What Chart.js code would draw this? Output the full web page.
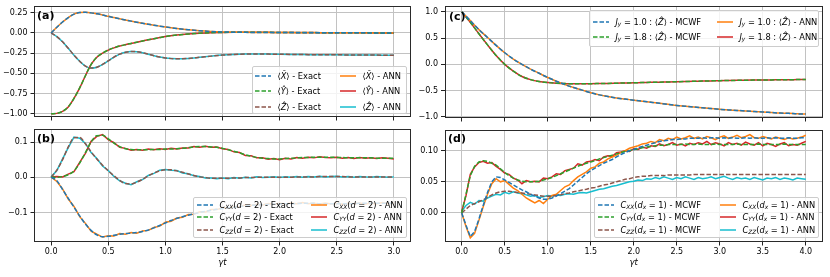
<!DOCTYPE html>
<html><head><meta charset="utf-8">
<script src="https://cdn.jsdelivr.net/npm/chart.js@4.4.1/dist/chart.umd.min.js"></script>
<style>
html,body{margin:0;padding:0;background:#fff;}
#wrap{position:relative;width:830px;height:277px;overflow:hidden;font-family:"DejaVu Sans";}
canvas{position:absolute;}
.lab{position:absolute;font:bold 11px "DejaVu Sans";color:#000;line-height:11px;white-space:nowrap;}
.box{position:absolute;background:rgba(255,255,255,0.8);border:1px solid #cccccc;border-radius:2px;box-sizing:border-box;}
.it{position:absolute;height:12px;font:8.3px "DejaVu Sans";line-height:12px;white-space:nowrap;color:#000;}
.it svg{position:absolute;left:0;top:0;}
.it span{position:absolute;left:22.4px;top:0;}
i{font-style:italic;}
sub{font-size:0.7em;vertical-align:-0.25em;line-height:0;}
</style></head>
<body><div id="wrap">
<canvas id="cA" width="416" height="123" style="left:0;top:0"></canvas>
<canvas id="cB" width="416" height="154" style="left:0;top:123px"></canvas>
<canvas id="cC" width="420" height="124" style="left:410px;top:0"></canvas>
<canvas id="cD" width="420" height="153" style="left:410px;top:124px"></canvas>
</div>
<script>
// ---------- time grids ----------
const tA = [0,0.05,0.1,0.15,0.2,0.25,0.3,0.35,0.4,0.45,0.5,0.55,0.6,0.65,0.7,0.75,0.8,0.85,0.9,0.95,1.0,
  1.1,1.2,1.3,1.4,1.5,1.6,1.7,1.8,1.9,2.0,2.1,2.2,2.3,2.4,2.5,2.6,2.7,2.8,2.9,3.0];
const tB = [0,0.05,0.1,0.15,0.2,0.25,0.3,0.35,0.4,0.45,0.5,0.55,0.6,0.65,0.7,0.75,0.8,0.85,0.9,0.95,1.0,
  1.05,1.1,1.15,1.2,1.25,1.3,1.35,1.4,1.45,1.5,1.55,1.6,1.65,1.7,1.75,1.8,1.85,1.9,1.95,2.0,
  2.05,2.1,2.15,2.2,2.25,2.3,2.35,2.4,2.45,2.5,2.55,2.6,2.65,2.7,2.75,2.8,2.85,2.9,2.95,3.0];
const tC = [0,0.1,0.2,0.3,0.4,0.5,0.6,0.7,0.8,0.9,1.0,1.1,1.2,1.3,1.4,1.5,1.6,1.7,1.8,1.9,2.0,
  2.1,2.2,2.3,2.4,2.5,2.6,2.7,2.8,2.9,3.0,3.1,3.2,3.3,3.4,3.5,3.6,3.7,3.8,3.9,4.0];
const tD = [0,0.05,0.1,0.15,0.2,0.25,0.3,0.35,0.4,0.45,0.5,0.55,0.6,0.65,0.7,0.75,0.8,0.85,0.9,0.95,
  1.0,1.05,1.1,1.15,1.2,1.25,1.3,1.35,1.4,1.45,1.5,1.55,1.6,1.65,1.7,1.75,1.8,1.85,1.9,1.95,
  2.0,2.05,2.1,2.15,2.2,2.25,2.3,2.35,2.4,2.45,2.5,2.55,2.6,2.65,2.7,2.75,2.8,2.85,2.9,2.95,
  3.0,3.05,3.1,3.15,3.2,3.25,3.3,3.35,3.4,3.45,3.5,3.55,3.6,3.65,3.7,3.75,3.8,3.85,3.9,3.95,4.0];

// ---------- panel (a) ----------
const aX = [0,0.07,0.135,0.19,0.232,0.252,0.255,0.248,0.236,0.222,0.205,0.19,0.175,0.16,0.146,0.132,0.119,0.107,0.095,0.084,0.074,
  0.056,0.04,0.027,0.018,0.012,0.009,0.007,0.006,0.005,0.004,0.004,0.003,0.003,0.002,0.002,0.001,0.001,0,0,0];
const aY = [-1.0,-0.995,-0.97,-0.915,-0.81,-0.68,-0.53,-0.39,-0.3,-0.25,-0.212,-0.185,-0.162,-0.145,-0.13,-0.115,-0.1,-0.085,-0.071,-0.058,-0.045,
  -0.027,-0.014,-0.004,0.002,0.006,0.008,0.008,0.008,0.007,0.006,0.005,0.004,0.004,0.003,0.002,0.002,0.001,0.001,0,0];
const aZ = [0,-0.045,-0.11,-0.19,-0.275,-0.35,-0.41,-0.435,-0.425,-0.39,-0.345,-0.3,-0.263,-0.24,-0.23,-0.233,-0.245,-0.263,-0.282,-0.298,-0.31,
  -0.32,-0.316,-0.302,-0.287,-0.274,-0.266,-0.262,-0.261,-0.262,-0.264,-0.266,-0.268,-0.269,-0.27,-0.271,-0.272,-0.273,-0.274,-0.275,-0.275];
// ANN curves coincide with the exact ones at this scale
const aXann = aX, aYann = aY, aZann = aZ;

// ---------- panel (b) ----------
const bCxx = [0,-0.01,-0.035,-0.06,-0.085,-0.11,-0.133,-0.151,-0.164,-0.169,-0.168,-0.165,-0.162,-0.16,-0.159,-0.157,-0.154,-0.15,-0.144,-0.137,-0.13,
  -0.123,-0.117,-0.112,-0.108,-0.104,-0.1,-0.097,-0.094,-0.091,-0.089,-0.087,-0.085,-0.083,-0.081,-0.08,-0.079,-0.078,-0.077,-0.076,-0.076,
  -0.075,-0.075,-0.075,-0.074,-0.074,-0.074,-0.075,-0.075,-0.075,-0.075,-0.075,-0.075,-0.075,-0.074,-0.074,-0.074,-0.074,-0.074,-0.074,-0.074];
const bCyy = [0,0,0.002,0.007,0.018,0.04,0.07,0.1,0.118,0.119,0.109,0.097,0.087,0.081,0.079,0.078,0.078,0.078,0.079,0.079,0.08,
  0.08,0.081,0.082,0.084,0.086,0.087,0.087,0.086,0.085,0.082,0.078,0.074,0.069,0.064,0.06,0.056,0.054,0.053,0.052,0.052,
  0.053,0.054,0.055,0.056,0.056,0.057,0.057,0.057,0.057,0.056,0.056,0.055,0.055,0.055,0.055,0.055,0.054,0.054,0.054,0.054];
const bCzz = [0,0.02,0.05,0.086,0.112,0.113,0.095,0.072,0.052,0.034,0.018,0.004,-0.009,-0.018,-0.019,-0.014,-0.006,0.004,0.012,0.018,0.021,
  0.021,0.018,0.014,0.009,0.005,0.001,-0.001,-0.003,-0.003,-0.003,-0.003,-0.002,-0.002,-0.001,-0.001,0,0,0,0,0,
  0,0,0.001,0.001,0.001,0.001,0.002,0.002,0.002,0.002,0.002,0.001,0.001,0.001,0.001,0.001,0.001,0.001,0.001,0.001];
const bCxxAnn = [0,-0.012,-0.033,-0.062,-0.083,-0.112,-0.131,-0.153,-0.162,-0.17,-0.166,-0.167,-0.16,-0.162,-0.157,-0.159,-0.153,-0.151,-0.143,-0.139,-0.128,
  -0.125,-0.116,-0.114,-0.106,-0.105,-0.098,-0.099,-0.092,-0.092,-0.087,-0.088,-0.083,-0.084,-0.079,-0.08,-0.077,-0.079,-0.075,-0.077,-0.074,
  -0.076,-0.073,-0.075,-0.072,-0.075,-0.074,-0.076,-0.073,-0.076,-0.074,-0.077,-0.074,-0.075,-0.073,-0.076,-0.074,-0.075,-0.072,-0.075,-0.074];
const bCyyAnn = [0.001,0.002,0.001,0.009,0.016,0.042,0.068,0.102,0.116,0.121,0.107,0.098,0.085,0.082,0.077,0.079,0.077,0.08,0.078,0.081,0.079,
  0.082,0.08,0.083,0.083,0.087,0.085,0.088,0.085,0.086,0.081,0.079,0.072,0.07,0.062,0.061,0.055,0.055,0.051,0.053,0.05,
  0.054,0.052,0.056,0.054,0.057,0.055,0.058,0.056,0.055,0.057,0.054,0.056,0.053,0.056,0.054,0.055,0.053,0.055,0.054,0.052];
const bCzzAnn = [0.001,0.019,0.052,0.084,0.114,0.111,0.096,0.07,0.053,0.032,0.019,0.002,-0.01,-0.017,-0.021,-0.013,-0.007,0.005,0.011,0.02,0.022,
  0.02,0.019,0.012,0.01,0.004,0.002,-0.002,-0.002,-0.004,-0.002,-0.004,-0.001,-0.003,0,-0.002,0.001,-0.001,0,0.001,-0.001,
  0.001,0,0.002,0,0.002,0.001,0.003,0.001,0.002,0.003,0.001,0.002,0,0.002,0.001,0,0.002,0.001,0,0.001];

// ---------- panel (c) ----------
const cJ10 = [1.0,0.83,0.66,0.51,0.36,0.22,0.1,0.0,-0.09,-0.17,-0.25,-0.32,-0.385,-0.44,-0.49,-0.54,-0.58,-0.61,-0.64,-0.66,-0.68,
  -0.70,-0.72,-0.74,-0.76,-0.78,-0.795,-0.81,-0.825,-0.84,-0.855,-0.865,-0.875,-0.885,-0.895,-0.905,-0.915,-0.925,-0.93,-0.94,-0.945];
const cJ18 = [1.0,0.8,0.58,0.37,0.17,0.0,-0.13,-0.23,-0.29,-0.325,-0.345,-0.357,-0.365,-0.37,-0.37,-0.368,-0.365,-0.362,-0.358,-0.354,-0.35,
  -0.346,-0.342,-0.338,-0.334,-0.33,-0.326,-0.322,-0.318,-0.314,-0.31,-0.307,-0.304,-0.301,-0.299,-0.297,-0.295,-0.293,-0.291,-0.29,-0.289];
const cJ10ann = cJ10, cJ18ann = cJ18;

// ---------- panel (d) ----------
const dCxx = [0,-0.02,-0.038,-0.03,-0.01,0.012,0.033,0.05,0.058,0.057,
  0.053,0.049,0.045,0.041,0.037,0.034,0.03,0.027,0.024,0.022,
  0.022,0.024,0.027,0.031,0.035,0.039,0.045,0.051,0.057,0.063,
  0.068,0.072,0.076,0.08,0.083,0.086,0.09,0.094,0.097,0.1,
  0.102,0.105,0.107,0.109,0.111,0.113,0.115,0.116,0.117,0.118,
  0.118,0.119,0.119,0.12,0.12,0.12,0.121,0.12,0.121,0.121,
  0.12,0.121,0.12,0.121,0.12,0.12,0.121,0.12,0.121,0.12,
  0.12,0.121,0.12,0.121,0.12,0.12,0.121,0.12,0.12,0.121,0.121];
const dCyy = [0,0.03,0.06,0.075,0.082,0.084,0.083,0.08,0.077,0.071,
  0.065,0.06,0.056,0.053,0.051,0.05,0.05,0.05,0.051,0.053,
  0.055,0.057,0.06,0.063,0.066,0.069,0.072,0.075,0.078,0.08,
  0.082,0.084,0.087,0.089,0.091,0.093,0.095,0.097,0.099,0.1,
  0.102,0.103,0.105,0.106,0.107,0.108,0.109,0.109,0.11,0.11,
  0.11,0.11,0.111,0.11,0.11,0.111,0.11,0.11,0.11,0.111,
  0.11,0.11,0.11,0.11,0.111,0.11,0.11,0.11,0.11,0.111,
  0.11,0.11,0.11,0.11,0.11,0.111,0.11,0.11,0.11,0.11,0.11];
const dCzz = [0,0.006,0.012,0.015,0.018,0.021,0.025,0.029,0.032,0.034,
  0.035,0.035,0.034,0.033,0.032,0.031,0.03,0.029,0.028,0.027,
  0.027,0.027,0.028,0.029,0.031,0.032,0.034,0.035,0.037,0.038,
  0.04,0.041,0.043,0.045,0.046,0.048,0.05,0.052,0.054,0.055,
  0.057,0.058,0.059,0.059,0.06,0.06,0.06,0.06,0.061,0.061,
  0.061,0.061,0.061,0.061,0.062,0.062,0.062,0.062,0.062,0.062,
  0.062,0.062,0.062,0.062,0.062,0.062,0.062,0.062,0.062,0.062,
  0.062,0.062,0.062,0.062,0.062,0.062,0.062,0.062,0.062,0.062,0.062];
const dCxxAnn = [0,-0.022,-0.04,-0.033,-0.012,0.01,0.03,0.047,0.055,0.05,
  0.052,0.046,0.04,0.036,0.03,0.024,0.02,0.016,0.02,0.015,
  0.022,0.028,0.03,0.036,0.042,0.045,0.052,0.058,0.062,0.066,
  0.072,0.074,0.08,0.082,0.087,0.09,0.093,0.097,0.1,0.104,
  0.106,0.108,0.111,0.112,0.115,0.113,0.118,0.116,0.12,0.118,
  0.122,0.119,0.121,0.124,0.12,0.122,0.119,0.123,0.121,0.118,
  0.122,0.124,0.12,0.122,0.125,0.121,0.123,0.126,0.121,0.12,
  0.123,0.121,0.119,0.122,0.12,0.118,0.121,0.119,0.12,0.122,0.125];
const dCyyAnn = [0.002,0.028,0.062,0.074,0.081,0.083,0.08,0.081,0.075,0.07,
  0.064,0.062,0.056,0.053,0.047,0.052,0.05,0.051,0.05,0.056,
  0.055,0.058,0.063,0.062,0.068,0.07,0.072,0.079,0.077,0.082,
  0.083,0.086,0.084,0.09,0.092,0.091,0.097,0.098,0.1,0.099,
  0.103,0.102,0.106,0.104,0.108,0.107,0.111,0.108,0.11,0.113,
  0.109,0.111,0.108,0.112,0.11,0.113,0.111,0.115,0.11,0.113,
  0.111,0.108,0.113,0.11,0.112,0.109,0.114,0.111,0.109,0.113,
  0.108,0.112,0.11,0.107,0.111,0.113,0.108,0.11,0.109,0.112,0.115];
const dCzzAnn = [0.003,0.012,0.017,0.014,0.02,0.019,0.024,0.027,0.03,0.029,
  0.033,0.031,0.034,0.032,0.031,0.029,0.027,0.028,0.025,0.026,
  0.028,0.027,0.029,0.028,0.03,0.031,0.03,0.032,0.033,0.032,
  0.034,0.036,0.038,0.039,0.041,0.043,0.044,0.046,0.048,0.05,
  0.051,0.053,0.052,0.055,0.054,0.057,0.055,0.058,0.056,0.054,
  0.057,0.055,0.058,0.056,0.054,0.057,0.055,0.056,0.058,0.055,
  0.057,0.059,0.056,0.054,0.057,0.055,0.056,0.054,0.057,0.055,
  0.053,0.056,0.055,0.057,0.054,0.056,0.055,0.053,0.056,0.055,0.054];

// ---------- ticks ----------
const xTicksAB = [0,0.5,1,1.5,2,2.5,3];
const xTicksCD = [0,0.5,1,1.5,2,2.5,3,3.5,4];
const yTicksA = [0.25,0,-0.25,-0.5,-0.75,-1];
const yTicksB = [0.1,0,-0.1];
const yTicksC = [1,0.5,0,-0.5,-1];
const yTicksD = [0.1,0.05,0];

// ---------- styling ----------
const COL = {blue:'#1f77b4', orange:'#ff7f0e', green:'#2ca02c', red:'#d62728', brown:'#8c564b', cyan:'#17becf'};
const GRID = '#c2c2c2';
const DASH = [4.5,2];
const LW = 1.5;
Chart.defaults.font.family = 'DejaVu Sans';
Chart.defaults.font.size = 8;
Chart.defaults.color = '#000';

const fmt = (v,d) => (v < 0 ? '\u2212' : '') + Math.abs(v).toFixed(d);

const frame = { id:'frame', afterDatasetsDraw(c){
  const {ctx, chartArea:a} = c; ctx.save(); ctx.strokeStyle = '#2a2a2a'; ctx.lineWidth = 1;
  const l = Math.round(a.left)+0.5, t = Math.round(a.top)+0.5, r = Math.round(a.right)-0.5, b = Math.round(a.bottom)-0.5;
  ctx.strokeRect(l, t, r-l, b-t); ctx.restore(); } };

function panel(id, cfg){
  const ds = cfg.series.map(s => ({
    data: s.t.map((x,i) => ({x:x, y:s.v[i]})),
    borderColor: s.c, borderWidth: LW, borderDash: s.dash ? DASH : [],
    pointRadius: 0, fill: false, tension: 0,
    cubicInterpolationMode: s.smooth ? 'monotone' : 'default'
  }));
  const zeroPad = s => { s.paddingLeft = 0; s.paddingRight = 0; s.paddingTop = 0; s.paddingBottom = 0; };
  return new Chart(document.getElementById(id), {
    type: 'line',
    data: { datasets: ds },
    options: {
      responsive:false, animation:false, devicePixelRatio:1, events:[],
      layout:{ padding: cfg.pad },
      plugins:{ legend:{display:false}, tooltip:{enabled:false} },
      scales:{
        x:{ type:'linear', min:cfg.xmin, max:cfg.xmax,
          afterBuildTicks: s => { s.ticks = cfg.xt.map(v => ({value:v})); },
          afterFit: s => { s.height = cfg.xh; zeroPad(s); },
          ticks:{ autoSkip:false, maxRotation:0, minRotation:0, padding:2, color:'#000', font:{size:8},
            callback: v => cfg.xlab ? fmt(v,1) : '' },
          grid:{ color:GRID, lineWidth:1, drawTicks:true, tickLength:3.5, tickColor:'#222', tickWidth:1 },
          border:{ display:false },
          title: cfg.xlab ? { display:true, text:'\u03b3t', color:'#000', font:{size:8.5, style:'italic'}, padding:{top:0, bottom:9} } : { display:false }
        },
        y:{ type:'linear', min:cfg.ymin, max:cfg.ymax,
          afterBuildTicks: s => { s.ticks = cfg.yt.map(v => ({value:v})); },
          afterFit: s => { s.width = cfg.yw; zeroPad(s); },
          ticks:{ autoSkip:false, padding:3, color:'#000', font:{size:8}, callback: v => fmt(v, cfg.yd) },
          grid:{ color:GRID, lineWidth:1, drawTicks:true, tickLength:3.5, tickColor:'#222', tickWidth:1 },
          border:{ display:false }
        }
      }
    },
    plugins:[frame]
  });
}

panel('cA', { xmin:-0.15, xmax:3.15, ymin:-1.04, ymax:0.333, xt:xTicksAB, yt:yTicksA, yd:2, xlab:false,
  xh:6, yw:34, pad:{left:0, right:5, top:6, bottom:0},
  series:[
    {t:tA, v:aX, c:COL.blue, dash:true, smooth:true},
    {t:tA, v:aY, c:COL.green, dash:true, smooth:true},
    {t:tA, v:aZ, c:COL.brown, dash:true, smooth:true},
    {t:tA, v:aXann, c:COL.orange, smooth:true},
    {t:tA, v:aYann, c:COL.red, smooth:true},
    {t:tA, v:aZann, c:COL.cyan, smooth:true}
  ]});
panel('cB', { xmin:-0.15, xmax:3.15, ymin:-0.184, ymax:0.137, xt:xTicksAB, yt:yTicksB, yd:1, xlab:true,
  xh:35, yw:34, pad:{left:0, right:5, top:6, bottom:0},
  series:[
    {t:tB, v:bCxx, c:COL.blue, dash:true, smooth:true},
    {t:tB, v:bCyy, c:COL.green, dash:true, smooth:true},
    {t:tB, v:bCzz, c:COL.brown, dash:true, smooth:true},
    {t:tB, v:bCxxAnn, c:COL.orange},
    {t:tB, v:bCyyAnn, c:COL.red},
    {t:tB, v:bCzzAnn, c:COL.cyan}
  ]});
panel('cC', { xmin:-0.2, xmax:4.2, ymin:-1.019, ymax:1.108, xt:xTicksCD, yt:yTicksC, yd:1, xlab:false,
  xh:6, yw:34.5, pad:{left:0, right:7, top:6, bottom:0},
  series:[
    {t:tC, v:cJ10, c:COL.blue, dash:true, smooth:true},
    {t:tC, v:cJ18, c:COL.green, dash:true, smooth:true},
    {t:tC, v:cJ10ann, c:COL.orange, smooth:true},
    {t:tC, v:cJ18ann, c:COL.red, smooth:true}
  ]});
panel('cD', { xmin:-0.2, xmax:4.2, ymin:-0.0468, ymax:0.1334, xt:xTicksCD, yt:yTicksD, yd:2, xlab:true,
  xh:35, yw:34.5, pad:{left:0, right:7, top:6, bottom:0},
  series:[
    {t:tD, v:dCxx, c:COL.blue, dash:true},
    {t:tD, v:dCyy, c:COL.green, dash:true},
    {t:tD, v:dCzz, c:COL.brown, dash:true},
    {t:tD, v:dCxxAnn, c:COL.orange},
    {t:tD, v:dCyyAnn, c:COL.red},
    {t:tD, v:dCzzAnn, c:COL.cyan}
  ]});

// ---------- legends & panel labels (HTML text) ----------
const wrap = document.getElementById('wrap');
function add(html){ wrap.insertAdjacentHTML('beforeend', html); }
function box(l,t,r,b){ add(`<div class="box" style="left:${l}px;top:${t}px;width:${r-l}px;height:${b-t}px"></div>`); }
function item(x, y, color, dashed, text){
  const dash = dashed ? 'stroke-dasharray="4.5,2"' : '';
  add(`<div class="it" style="left:${x}px;top:${y-6}px;width:200px"><svg width="16" height="12"><line x1="0" y1="6" x2="16" y2="6" stroke="${color}" stroke-width="${LW}" ${dash}/></svg><span>${text}</span></div>`);
}
function label(x, y, t){ add(`<div class="lab" style="left:${x}px;top:${y}px">${t}</div>`); }

const Xh = '<i>X\u0302</i>', Yh = '<i>\u0176</i>', Zh = '<i>\u1E90</i>';
// (a)
box(252, 66, 407, 114);
item(255, 76, COL.blue, true, `\u27E8${Xh}\u27E9 - Exact`);
item(255, 91, COL.green, true, `\u27E8${Yh}\u27E9 - Exact`);
item(255, 106.5, COL.brown, true, `\u27E8${Zh}\u27E9 - Exact`);
item(340, 76, COL.orange, false, `\u27E8${Xh}\u27E9 - ANN`);
item(340, 91, COL.red, false, `\u27E8${Yh}\u27E9 - ANN`);
item(340, 106.5, COL.cyan, false, `\u27E8${Zh}\u27E9 - ANN`);
// (b)
const Cb = (s) => `<i>C<sub>${s}</sub></i>(<i>d</i> = 2)`;
box(193, 197, 407, 238);
item(197, 204.5, COL.blue, true, `${Cb('XX')} - Exact`);
item(197, 217, COL.green, true, `${Cb('YY')} - Exact`);
item(197, 229.5, COL.brown, true, `${Cb('ZZ')} - Exact`);
item(311, 204.5, COL.orange, false, `${Cb('XX')} - ANN`);
item(311, 217, COL.red, false, `${Cb('YY')} - ANN`);
item(311, 229.5, COL.cyan, false, `${Cb('ZZ')} - ANN`);
// (c)
const Jc = (v) => `<i>J<sub>y</sub></i> = ${v} : \u27E8${Zh}\u27E9`;
box(589, 10, 819, 47);
item(593, 21.5, COL.blue, true, `${Jc('1.0')} - MCWF`);
item(593, 36.5, COL.green, true, `${Jc('1.8')} - MCWF`);
item(717, 21.5, COL.orange, false, `${Jc('1.0')} - ANN`);
item(717, 36.5, COL.red, false, `${Jc('1.8')} - ANN`);
// (d)
const Cd = (s) => `<i>C<sub>${s}</sub></i>(<i>d<sub>x</sub></i> = 1)`;
box(594, 197, 819, 238);
item(598, 204.5, COL.blue, true, `${Cd('XX')} - MCWF`);
item(598, 217, COL.green, true, `${Cd('YY')} - MCWF`);
item(598, 229.5, COL.brown, true, `${Cd('ZZ')} - MCWF`);
item(720, 204.5, COL.orange, false, `${Cd('XX')} - ANN`);
item(720, 217, COL.red, false, `${Cd('YY')} - ANN`);
item(720, 229.5, COL.cyan, false, `${Cd('ZZ')} - ANN`);

label(37, 9.5, '(a)');
label(37, 132.5, '(b)');
label(449, 10.5, '(c)');
label(448, 132.5, '(d)');
</script>
</body></html>
